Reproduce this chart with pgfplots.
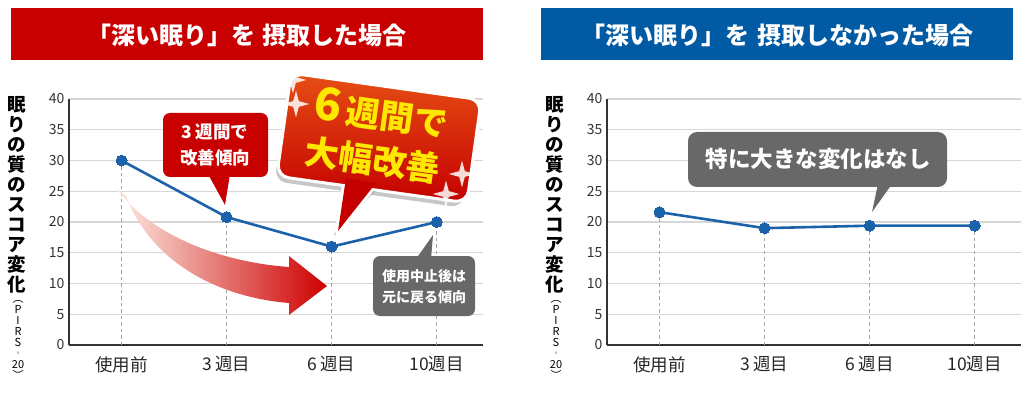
\documentclass[border=0pt]{standalone}
\usepackage{fontspec}
\setmainfont{Noto Sans CJK JP}
\usepackage{pgfplots}
\pgfplotsset{compat=1.18}
\usetikzlibrary{shapes.geometric}

\definecolor{titlered}{RGB}{200,0,0}
\definecolor{titleblue}{RGB}{0,91,164}
\definecolor{lineblue}{RGB}{28,98,170}
\definecolor{calloutgray}{RGB}{104,104,104}
\definecolor{calloutred}{RGB}{200,0,0}
\definecolor{bigtop}{RGB}{230,78,20}
\definecolor{bigbottom}{RGB}{196,0,0}
\definecolor{textyellow}{RGB}{255,232,0}

\pgfplotsset{
  sleepaxis/.style={
    anchor=south west,
    width=414pt, height=246pt, scale only axis,
    xmin=-0.5, xmax=3.44, ymin=0, ymax=40,
    axis x line*=bottom, axis y line*=left,
    axis line style={line width=1.5pt, color=black!80},
    ytick={0,5,...,40},
    ymajorgrids,
    grid style={line width=1.2pt, color=black!16},
    xtick={0,1,2,3},
    xticklabels={使用前, 3\,週目, 6\,週目, 10週目},
    major tick length=0pt,
    /pgf/number format/assume math mode=true,
    yticklabel style={font=\fontsize{14}{14}\selectfont, text=black!80, xshift=-1pt},
    xticklabel style={font=\fontsize{17.5}{17.5}\selectfont, text=black!85, yshift=-8pt},
    clip=false,
  },
  drops/.style={ycomb, mark=none, draw=black!35, line width=1pt, dash pattern=on 3.5pt off 3pt},
  series/.style={color=lineblue, line width=2.6pt, mark=*, mark size=5.5pt,
    mark options={fill=lineblue, draw=lineblue, line width=0pt}},
}

\begin{document}
\begin{tikzpicture}
\useasboundingbox (0,0) rectangle (1024pt,410pt);

% left panel: with deep sleep
\begin{axis}[sleepaxis, at={(69pt,65pt)}]
  \addplot[drops] coordinates {(0,30) (1,20.8) (2,16) (3,20)};
  \addplot[series] coordinates {(0,30) (1,20.8) (2,16) (3,20)};
\end{axis}

% right panel: without deep sleep
\begin{axis}[sleepaxis, at={(607pt,65pt)}]
  \addplot[drops] coordinates {(0,21.6) (1,19.0) (2,19.4) (3,19.4)};
  \addplot[series] coordinates {(0,21.6) (1,19.0) (2,19.4) (3,19.4)};
\end{axis}

% annotations, in picture pixels (y downwards)
\begin{scope}[x=1pt, y=-1pt, shift={(0pt,410pt)}]
  % title banners
  \fill[titlered] (11,8) rectangle (483,60);
  \node[text=white, font=\bfseries\fontsize{24}{24}\selectfont] at (247,35) {「深い眠り」を\,\,摂取した場合};
  \fill[titleblue] (541,8) rectangle (1013,60);
  \node[text=white, font=\bfseries\fontsize{24}{24}\selectfont] at (777,35) {「深い眠り」を\,\,摂取しなかった場合};

  % vertical y labels
  \foreach \xx in {17,555} {
    \node[anchor=north, align=center, inner sep=0pt, font=\bfseries\fontsize{18.5}{20}\selectfont]
      at (\xx,96) {眠\\り\\の\\質\\の\\ス\\コ\\ア\\変\\化};
    \node[anchor=north, align=center, inner sep=0pt, font=\fontsize{11}{11}\selectfont]
      at (\xx+1,300) {︵\\P\\I\\R\\S\\︲\\20\\︶};
  }

  % sweeping gradient arrow
  \shade[left color={rgb,255:red,252;green,236;blue,228},
         middle color={rgb,255:red,236;green,140;blue,95},
         right color={rgb,255:red,205;green,0;blue,0}]
    (116,188) .. controls (150,235) and (220,262) .. (289,267)
    -- (289,256) -- (327,286) -- (289,315) -- (289,303)
    .. controls (215,297) and (150,260) .. (126,196) -- cycle;

  % small red callout
  \fill[calloutred, rounded corners=7pt] (163,113) rectangle (268,177);
  \fill[calloutred] (208,174) -- (230,174) -- (225,205) -- cycle;
  \node[text=white, align=center, font=\bfseries\fontsize{17.5}{26}\selectfont] at (215,145) {3\,週間で\\改善傾向};

  % grey callout, left
  \fill[calloutgray, rounded corners=7pt] (373,256) rectangle (475,316);
  \fill[calloutgray] (416,259) -- (431,259) -- (433,235) -- cycle;
  \node[text=white, align=center, font=\bfseries\fontsize{14}{21}\selectfont] at (424,287) {使用中止後は\\元に戻る傾向};

  % big callout
  \fill[black, opacity=0.22, rounded corners=12pt, rotate around={-8:(376,142)}]
    (281,93) rectangle (471,195);
  \fill[black, opacity=0.22] (344,186) -- (376,190) -- (334,236) -- cycle;
  \draw[white, line width=6pt, line join=round] (346,178) -- (376,183) -- (338,231) -- cycle;
  \node[draw=white, line width=3pt, rounded corners=12pt, minimum width=192pt, minimum height=104pt,
        rotate=-8, top color=bigtop, bottom color=bigbottom, inner sep=0pt] at (379,138) {};
  \fill[bigbottom] (346,178) -- (376,183) -- (338,231) -- cycle;
  \node[rotate=-8, text=textyellow, inner sep=0pt, font=\bfseries\fontsize{34}{34}\selectfont] at (381,113)
    {{\fontsize{45}{45}\selectfont 6}\,週間で};
  \node[rotate=-8, text=textyellow, inner sep=0pt, font=\bfseries\fontsize{34}{34}\selectfont] at (373,160)
    {大幅改善};
  \foreach \sx/\sy in {293/80, 296/104, 462/174, 446/194} {
    \node[star, star points=4, star point ratio=0.3, fill=white, minimum size=8pt, inner sep=0pt,
          shape border rotate=45, opacity=0.85] at (\sx,\sy) {};
  }

  % grey callout, right
  \fill[calloutgray, rounded corners=9pt] (688,132) rectangle (947,187);
  \fill[calloutgray] (878,184) -- (892,184) -- (872,212) -- cycle;
  \node[text=white, font=\bfseries\fontsize{22.5}{22.5}\selectfont] at (818,159) {特に大きな変化はなし};
\end{scope}
\end{tikzpicture}
\end{document}
